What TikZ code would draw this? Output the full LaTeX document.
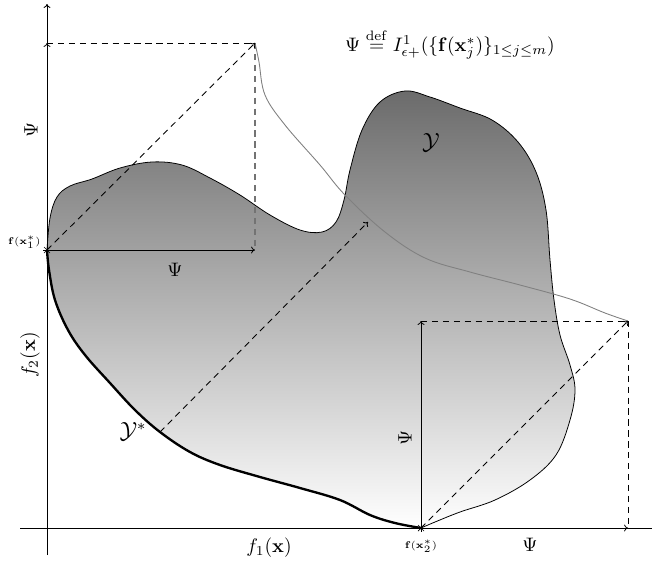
\documentclass[tikz,border=0pt]{standalone}
\usepackage{amsmath,amssymb}
\usetikzlibrary{arrows.meta}
\begin{document}
\begin{tikzpicture}[x=0.018cm,y=-0.018cm,
  axis/.style={line width=0.45pt,-{To[length=2pt,width=3.5pt]}},
  psiarrow/.style={line width=0.4pt,-{To[length=2pt,width=3.5pt]}},
  dashline/.style={line width=0.45pt,dash pattern=on 3.2pt off 2.4pt},
  dasharrow/.style={dashline,-{To[length=2pt,width=3.5pt]}},
  starmark/.style={line width=0.35pt},
  lbl/.style={inner sep=1pt},
  tinylbl/.style={inner sep=1pt,font=\tiny}]
\useasboundingbox (0,0) rectangle (652,563);

% key points
\coordinate (p1) at (47,250);
\coordinate (p1h) at (255,250);
\coordinate (p1v) at (47,43);
\coordinate (p1d) at (255,43);
\coordinate (p2) at (421,528);
\coordinate (p2h) at (628,528);
\coordinate (p2v) at (421,321);
\coordinate (p2d) at (628,321);
\coordinate (ms) at (160,432);
\coordinate (me) at (368,222);
\coordinate (xa0) at (20,528);
\coordinate (xa1) at (652,528);
\coordinate (ya0) at (47,555);
\coordinate (ya1) at (47,4);

% shape Y
\shade[top color=black!58,bottom color=white,draw=black,line width=0.4pt]
  plot[smooth,tension=0.6] coordinates {(47,250) (50,218) (57,197) (70,186) (92,179) (120,168) (152,162) (182,165) (210,178) (240,195) (270,215) (300,230) (322,232) (336,222) (344,200) (350,170) (362,130) (380,102) (405,91) (430,97) (460,108) (492,120) (518,142) (536,172) (546,210) (550,260) (554,300) (560,335) (570,365) (575,390) (570,420) (556,455) (530,480) (495,500) (460,512) (435,522) (421,528)}
  -- plot[smooth,tension=0.6] coordinates {(421,528) (395,523) (370,515) (340,500) (300,488) (260,477) (220,465) (190,452) (160,432) (135,410) (110,383) (85,355) (68,330) (55,300) (49,270) (47,250)}
  -- cycle;
% Y* boundary
\draw[line width=1.2pt] plot[smooth,tension=0.6] coordinates {(421,528) (395,523) (370,515) (340,500) (300,488) (260,477) (220,465) (190,452) (160,432) (135,410) (110,383) (85,355) (68,330) (55,300) (49,270) (47,250)};

% attainment curve
\draw[gray,line width=0.45pt] plot[smooth,tension=0.6] coordinates {(255,43) (259,62) (265,95) (285,125) (320,165) (345,195) (385,232) (425,258) (470,272) (520,285) (570,299) (605,313) (628,321)};

% axes
\draw[axis] (ya0) -- (ya1);
\draw[line width=0.45pt] (xa0) -- (xa1);

% dashed boxes
\draw[dashline] (p1v) -- (p1d);
\draw[dashline,black!55,line width=0.6pt] (p1d) -- (p1h);
\draw[dasharrow] (p1) -- (p1d);
\draw[dashline] (p2v) -- (p2d);
\draw[dashline] (p2d) -- (p2h);
\draw[dasharrow] (p2) -- (p2d);
\draw[dasharrow] (ms) -- (me);

% Psi arrows
\draw[psiarrow] (p1) -- (p1h);
\draw[psiarrow] (p1) -- (p1v);
\draw[psiarrow] (p2) -- (p2v);
\draw[psiarrow] (p2) -- (p2h);

% star marks
\foreach \c in {p1,p2}{
  \draw[starmark] ([shift={(-4,0)}]\c) -- ([shift={(4,0)}]\c);
  \draw[starmark] ([shift={(0,-4)}]\c) -- ([shift={(0,4)}]\c);
  \draw[starmark] ([shift={(-3,-3)}]\c) -- ([shift={(3,3)}]\c);
  \draw[starmark] ([shift={(-3,3)}]\c) -- ([shift={(3,-3)}]\c);
}

% labels
\node[lbl] (psi1) at (175,270) {$\Psi$};
\node[lbl,rotate=90] (psi2) at (31,130) {$\Psi$};
\node[lbl,rotate=90] (psi3) at (405,438) {$\Psi$};
\node[lbl] (psi4) at (530,545) {$\Psi$};
\node[tinylbl,anchor=east] (l1) at (43,242) {$\mathbf{f}(\mathbf{x}_1^*)$};
\node[tinylbl] (l2) at (421,546) {$\mathbf{f}(\mathbf{x}_2^*)$};
\node[lbl,font=\large] (ly) at (431,143) {$\mathcal{Y}$};
\node[lbl,font=\large] (lys) at (133,432) {$\mathcal{Y}^{*}$};
\node[lbl,rotate=90] (f2) at (30,355) {$f_2(\mathbf{x})$};
\node[lbl] (f1) at (269,548) {$f_1(\mathbf{x})$};
\node[lbl] (def) at (450,44) {$\Psi \stackrel{\mathrm{def}}{=} I^1_{\epsilon+}(\{\mathbf{f}(\mathbf{x}^*_j)\}_{1\le j\le m})$};
\end{tikzpicture}
\end{document}
